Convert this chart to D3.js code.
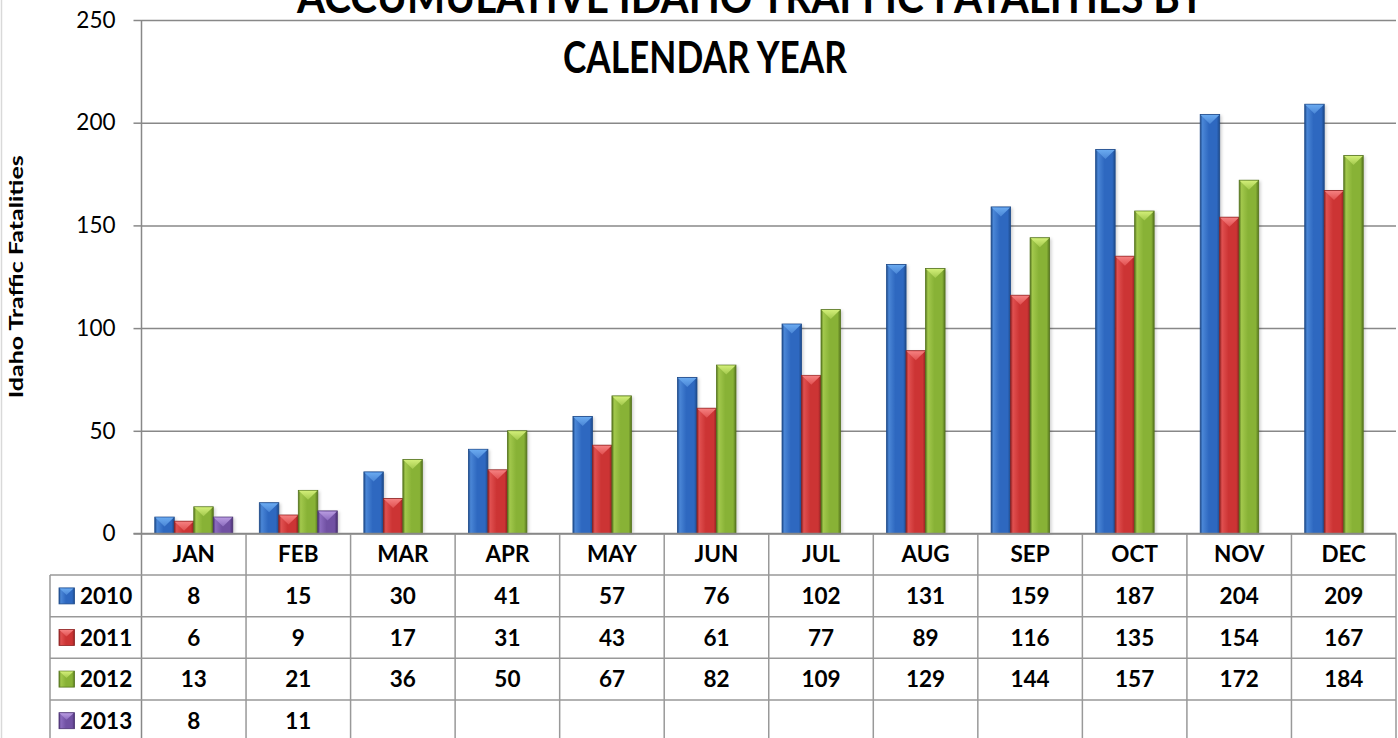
<!DOCTYPE html>
<html><head><meta charset="utf-8">
<script src="https://cdn.jsdelivr.net/npm/d3@7"></script>
<style>
html,body{margin:0;padding:0;background:#fff;}
svg{display:block;font-family:Lato,"Open Sans",sans-serif;}
</style></head>
<body>
<svg id="c" width="1398" height="738"></svg>
<script>
const months = ["JAN","FEB","MAR","APR","MAY","JUN","JUL","AUG","SEP","OCT","NOV","DEC"];
const seriesNames = ["2010","2011","2012","2013"];
const v2010 = [8,15,30,41,57,76,102,131,159,187,204,209];
const v2011 = [6,9,17,31,43,61,77,89,116,135,154,167];
const v2012 = [13,21,36,50,67,82,109,129,144,157,172,184];
const v2013 = [8,11,null,null,null,null,null,null,null,null,null,null];
const yTicks = [0,50,100,150,200,250];
const titleLines = ["ACCUMULATIVE IDAHO TRAFFIC FATALITIES BY","CALENDAR YEAR"];
const yLabel = "Idaho Traffic Fatalities";

const seriesValues = [v2010, v2011, v2012, v2013];
const palette = [
  {dark:"#1d4a8a", base:"#2e68c0", light:"#4a86d6", tri:"#6aaaf0"},
  {dark:"#8e2222", base:"#cc3434", light:"#e05050", tri:"#f58080"},
  {dark:"#56751e", base:"#88b236", light:"#a2c84c", tri:"#d2ee78"},
  {dark:"#4a3172", base:"#7151a3", light:"#8c6cbf", tri:"#b89be0"}
];

const svg = d3.select("#c");
const plotL = 141.5, plotR = 1396, plotT = 20, plotB = 533.5;
const rowH = 41.6;
const tableL = 50;

const defs = svg.append("defs");
palette.forEach((p,i)=>{
  const g = defs.append("linearGradient").attr("id","bg"+i).attr("x1","0").attr("x2","1").attr("y1","0").attr("y2","0");
  g.append("stop").attr("offset","0").attr("stop-color",p.dark);
  g.append("stop").attr("offset","0.12").attr("stop-color",p.light);
  g.append("stop").attr("offset","0.45").attr("stop-color",p.base);
  g.append("stop").attr("offset","0.85").attr("stop-color",p.base);
  g.append("stop").attr("offset","1").attr("stop-color",p.dark);
  const t = defs.append("linearGradient").attr("id","tg"+i).attr("x1","0").attr("x2","0").attr("y1","0").attr("y2","1");
  t.append("stop").attr("offset","0").attr("stop-color",p.tri);
  t.append("stop").attr("offset","1").attr("stop-color",p.light);
});
const f = defs.append("filter").attr("id","sh").attr("x","-30%").attr("y","-10%").attr("width","160%").attr("height","120%");
f.append("feGaussianBlur").attr("stdDeviation",1.5);

// faint left border
svg.append("line").attr("x1",1.5).attr("x2",1.5).attr("y1",0).attr("y2",738).attr("stroke","#d9d9d9").attr("stroke-width",1.5);

const x0 = d3.scaleBand().domain(months).range([plotL, plotR]).padding(0);
const bw = x0.bandwidth();
const x1 = d3.scaleBand().domain(seriesNames).range([bw*0.127, bw*0.873]).padding(0);
const y = d3.scaleLinear().domain([0,250]).range([plotB, plotT]);

// gridlines + y axis
const yAxis = d3.axisLeft(y).tickValues(yTicks).tickSize(8).tickPadding(18);
const ga = svg.append("g").attr("transform",`translate(${plotL},0)`).call(yAxis);
ga.select(".domain").remove();
ga.selectAll(".tick line").attr("stroke","#888").attr("stroke-width",1.5);
ga.selectAll(".tick text").attr("font-size",22.5).attr("fill","#000").attr("font-family","Lato").attr("x",-26);
ga.selectAll(".tick").append("line").attr("x1",0).attr("x2",plotR-plotL).attr("stroke","#888").attr("stroke-width",1.5);
svg.append("line").attr("x1",plotL).attr("x2",plotL).attr("y1",plotT).attr("y2",738).attr("stroke","#888").attr("stroke-width",1.5);

// title (first line is cut by the top edge, as in the reference)
svg.append("text").attr("x",297).attr("y",13).attr("font-size",44).attr("font-weight",700)
  .attr("textLength",908).attr("lengthAdjust","spacingAndGlyphs").text(titleLines[0]);
svg.append("text").attr("x",563).attr("y",73).attr("font-size",44).attr("font-weight",700)
  .attr("textLength",284).attr("lengthAdjust","spacingAndGlyphs").text(titleLines[1]);

// y label
svg.append("text").attr("transform",`translate(23,${(plotT+plotB)/2}) rotate(-90)`)
  .attr("text-anchor","middle").attr("font-size",19).attr("font-weight",700)
  .attr("textLength",243).attr("lengthAdjust","spacingAndGlyphs").text(yLabel);

// bars
const data = [];
months.forEach((m,mi)=>{
  seriesNames.forEach((s,si)=>{
    const v = seriesValues[si][mi];
    if (v!=null) data.push({m, s, si, v});
  });
});
const bars = svg.append("g");
const bwid = x1.bandwidth();
bars.selectAll("rect.shadow").data(data).join("rect").attr("class","shadow")
  .attr("x",d=>x0(d.m)+x1(d.s)+2).attr("y",d=>y(d.v)+1)
  .attr("width",bwid).attr("height",d=>plotB-y(d.v)-1)
  .attr("fill","rgba(0,0,0,0.18)").attr("filter","url(#sh)");
const bg = bars.selectAll("g.bar").data(data).join("g").attr("class","bar");
bg.append("rect")
  .attr("x",d=>x0(d.m)+x1(d.s)).attr("y",d=>y(d.v))
  .attr("width",bwid).attr("height",d=>plotB-y(d.v))
  .attr("fill",d=>`url(#bg${d.si})`).attr("stroke",d=>palette[d.si].dark).attr("stroke-width",0.8);
bg.append("path")
  .attr("d",d=>{
    const xa = x0(d.m)+x1(d.s)+0.5, xb = xa+bwid-1, yt = y(d.v)+0.5;
    const h = Math.min(9, plotB-y(d.v)-1);
    return `M${xa},${yt}L${xb},${yt}L${(xa+xb)/2},${yt+h}Z`;
  })
  .attr("fill",d=>`url(#tg${d.si})`);

// table
const tg = svg.append("g");
const gridC = "#999";
[1,2,3,4].forEach(r=>{
  tg.append("line").attr("x1",tableL).attr("x2",plotR).attr("y1",plotB+r*rowH).attr("y2",plotB+r*rowH)
    .attr("stroke",gridC).attr("stroke-width",1.5);
});
tg.append("line").attr("x1",tableL).attr("x2",tableL).attr("y1",plotB+rowH).attr("y2",738).attr("stroke",gridC).attr("stroke-width",1.5);
months.forEach((m,i)=>{
  const xr = x0(m)+bw;
  tg.append("line").attr("x1",xr).attr("x2",xr).attr("y1",plotB).attr("y2",738).attr("stroke",gridC).attr("stroke-width",1.5);
});
svg.append("line").attr("x1",plotL-8).attr("x2",plotR).attr("y1",plotB).attr("y2",plotB).attr("stroke","#888").attr("stroke-width",1.5);
tg.selectAll("text.hdr").data(months).join("text").attr("class","hdr")
  .attr("x",d=>x0(d)+bw/2).attr("y",plotB+rowH/2).attr("dy","0.36em")
  .attr("text-anchor","middle").attr("font-size",22.5).attr("font-weight",700).text(d=>d);
seriesNames.forEach((s,si)=>{
  const cy = plotB+rowH*(si+1)+rowH/2;
  const p = palette[si];
  tg.append("rect").attr("x",59).attr("y",cy-8).attr("width",15.5).attr("height",16)
    .attr("fill",`url(#bg${si})`).attr("stroke",p.dark).attr("stroke-width",0.8);
  tg.append("path").attr("d",`M59.5,${cy-7.5}L73.5,${cy-7.5}L66.5,${cy-1}Z`).attr("fill",`url(#tg${si})`);
  tg.append("text").attr("x",80).attr("y",cy).attr("dy","0.36em").attr("font-size",22.5).attr("font-weight",700).text(s);
  months.forEach((m,mi)=>{
    const v = seriesValues[si][mi];
    if (v==null) return;
    tg.append("text").attr("x",x0(m)+bw/2).attr("y",cy).attr("dy","0.36em")
      .attr("text-anchor","middle").attr("font-size",22.5).attr("font-weight",700).text(v);
  });
});
</script>
</body></html>
